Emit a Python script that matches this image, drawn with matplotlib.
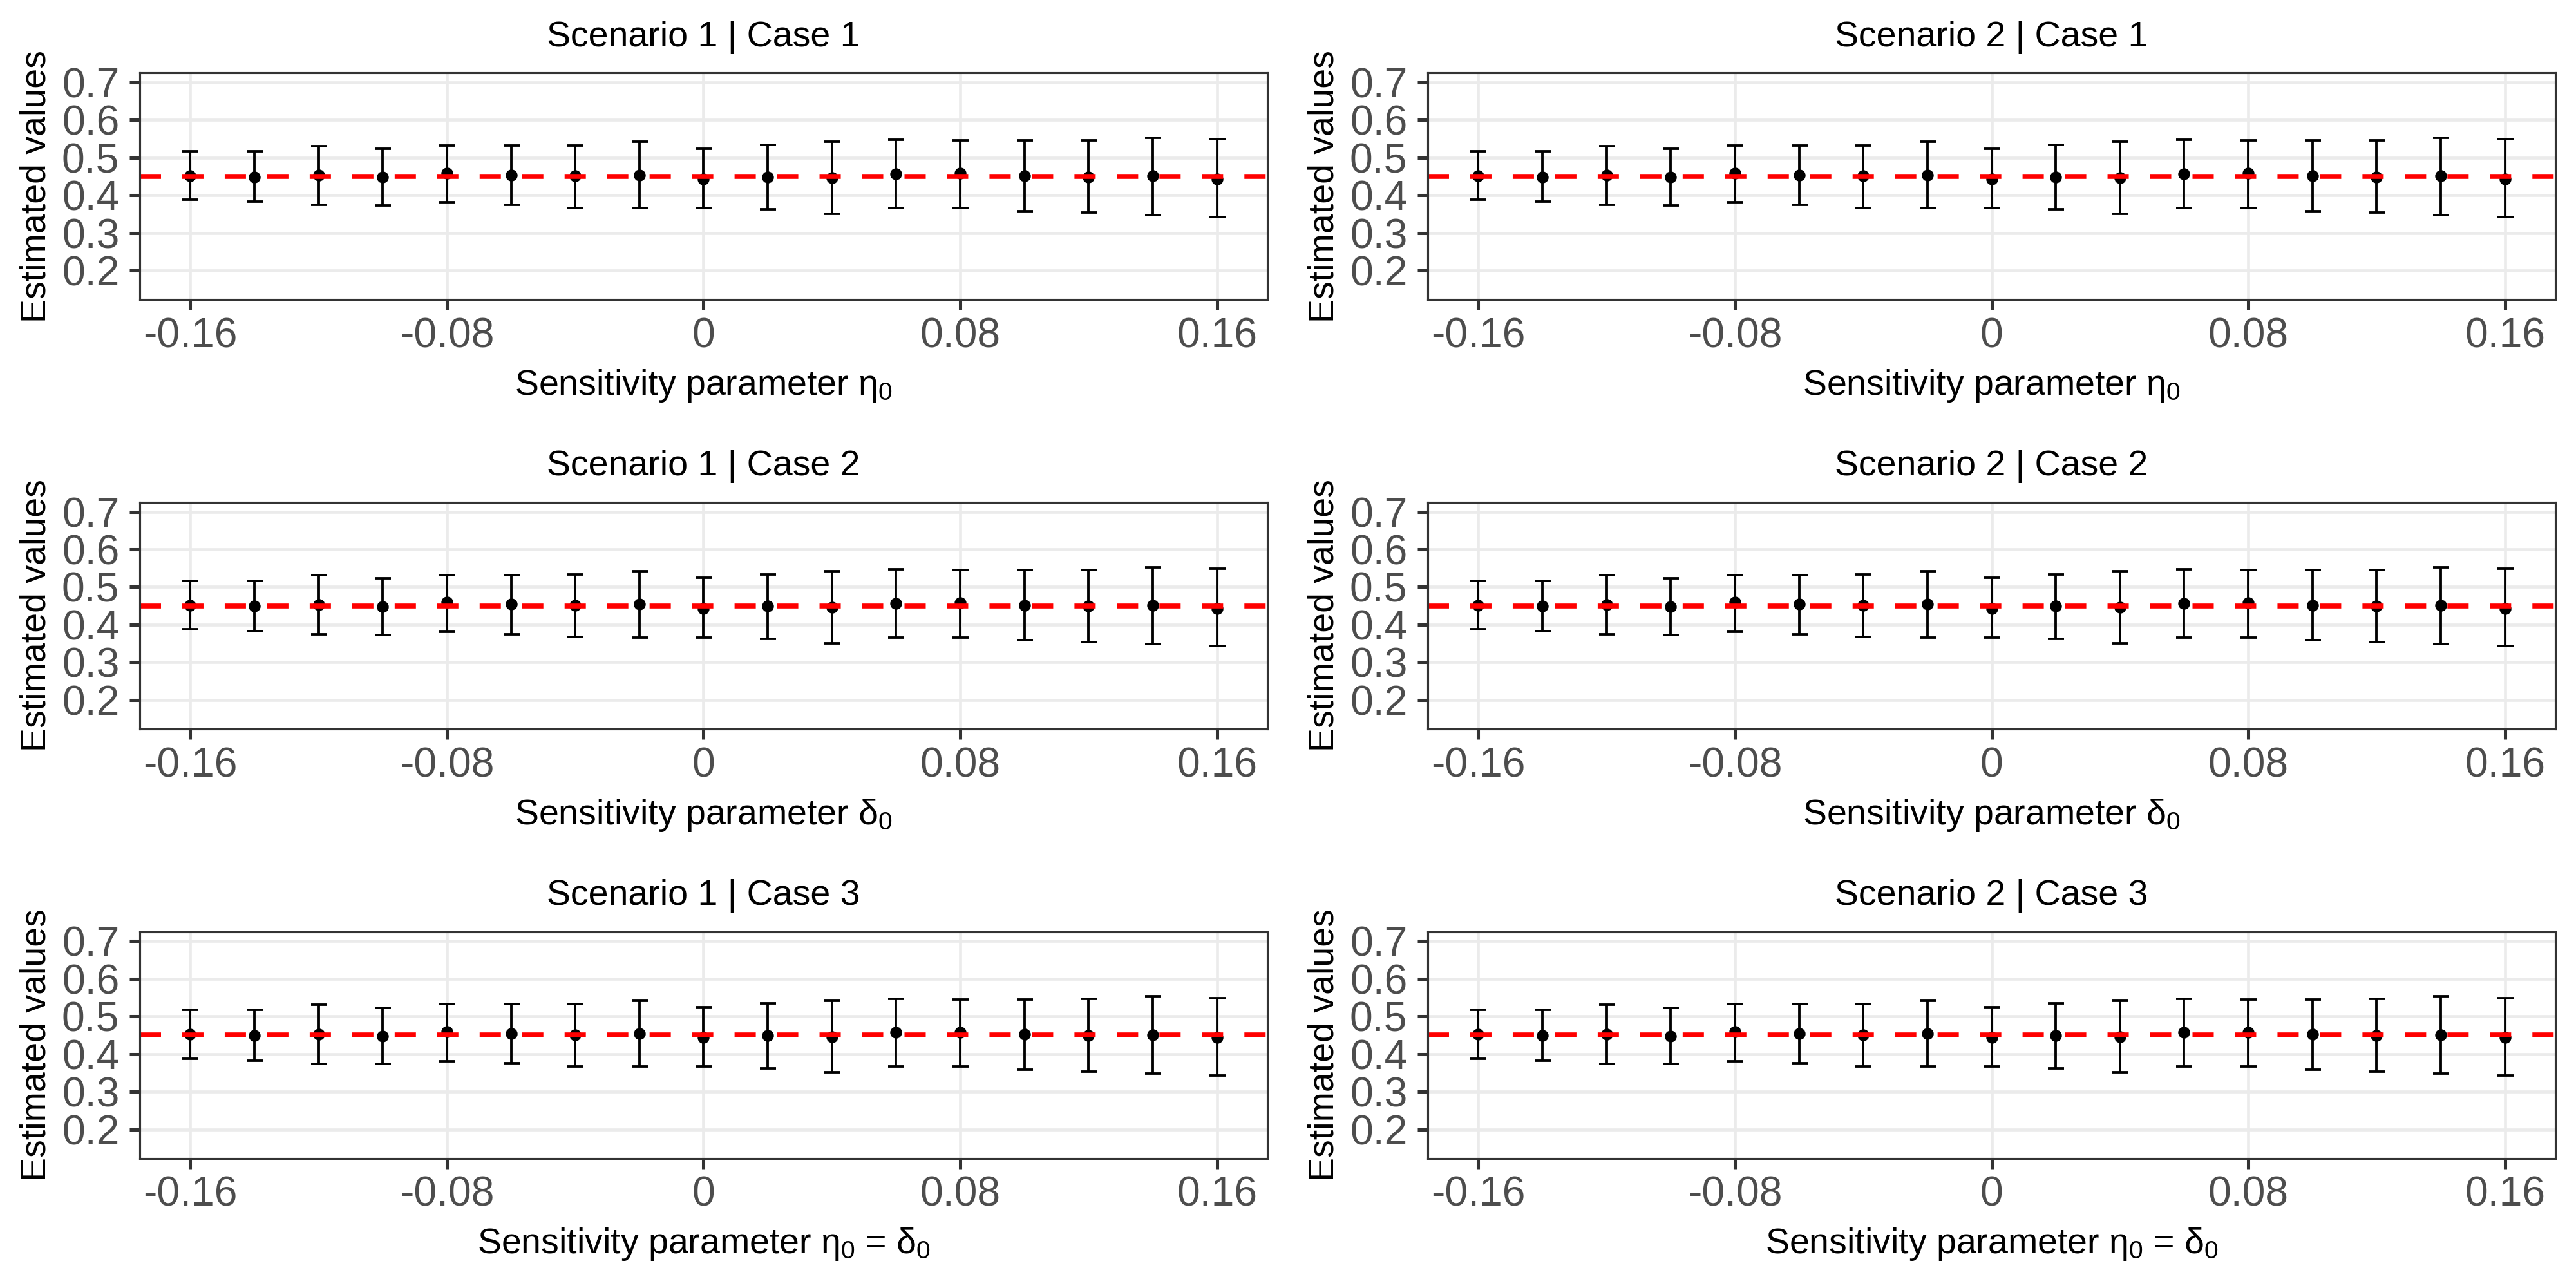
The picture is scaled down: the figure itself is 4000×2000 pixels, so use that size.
import matplotlib
matplotlib.use("Agg")
import matplotlib.pyplot as plt

plt.rcParams['font.family'] = ['Liberation Sans', 'DejaVu Sans']
plt.rcParams['mathtext.fontset'] = 'custom'
plt.rcParams['mathtext.rm'] = 'Liberation Sans'
plt.rcParams['mathtext.it'] = 'Liberation Sans'
plt.rcParams['mathtext.bf'] = 'Liberation Sans:bold'
plt.rcParams['lines.scale_dashes'] = False

# ---- data ----
sensitivity = [-0.16, -0.14, -0.12, -0.10, -0.08, -0.06, -0.04, -0.02, 0.0,
               0.02, 0.04, 0.06, 0.08, 0.10, 0.12, 0.14, 0.16]
estimate = [0.452, 0.449, 0.453, 0.448, 0.459, 0.454, 0.451, 0.454, 0.443,
            0.449, 0.446, 0.457, 0.458, 0.452, 0.449, 0.451, 0.443]
ci_lower = [0.388, 0.383, 0.374, 0.373, 0.381, 0.375, 0.367, 0.366, 0.366,
            0.362, 0.351, 0.366, 0.366, 0.358, 0.354, 0.348, 0.343]
ci_upper = [0.517, 0.517, 0.531, 0.523, 0.532, 0.532, 0.533, 0.542, 0.524,
            0.534, 0.542, 0.547, 0.545, 0.545, 0.546, 0.553, 0.549]
true_value = 0.45

panel_titles = [["Scenario 1 | Case 1", "Scenario 2 | Case 1"],
                ["Scenario 1 | Case 2", "Scenario 2 | Case 2"],
                ["Scenario 1 | Case 3", "Scenario 2 | Case 3"]]
row_xlabels = [r"Sensitivity parameter $\eta_0$",
               r"Sensitivity parameter $\delta_0$",
               r"Sensitivity parameter $\eta_0$ = $\delta_0$"]
ylabel = "Estimated values"
xticks = [-0.16, -0.08, 0.0, 0.08, 0.16]
xtick_labels = ["-0.16", "-0.08", "0", "0.08", "0.16"]
yticks = [0.2, 0.3, 0.4, 0.5, 0.6, 0.7]
ytick_labels = ["0.2", "0.3", "0.4", "0.5", "0.6", "0.7"]

# ---- layout (pixels on a 4000x2000 canvas) ----
W, H = 4000, 2000
col_left = [216.7, 2216.7]
panel_w = 1751.6
row_top = [113.3, 780.0, 1446.7]
panel_h = 351.8

fig = plt.figure(figsize=(16, 8), dpi=250)

yerr = [[e - l for e, l in zip(estimate, ci_lower)],
        [u - e for e, u in zip(estimate, ci_upper)]]

for r in range(3):
    for c in range(2):
        left = col_left[c] / W
        bottom = 1 - (row_top[r] + panel_h) / H
        ax = fig.add_axes([left, bottom, panel_w / W, panel_h / H])

        ax.errorbar(sensitivity, estimate, yerr=yerr, fmt='o', color='black',
                    ms=4.3, elinewidth=1.1, capsize=3.6, capthick=1.1, zorder=3)
        ax.axhline(true_value, color='#FF0000', lw=2.2, dashes=(9.5, 9.5),
                   zorder=4)

        ax.set_xlim(-0.1758, 0.1758)
        ax.set_ylim(0.123, 0.725)
        ax.set_xticks(xticks)
        ax.set_xticklabels(xtick_labels)
        ax.set_yticks(yticks)
        ax.set_yticklabels(ytick_labels)
        ax.minorticks_off()

        ax.grid(True, color='#EBEBEB', lw=1.35, zorder=0)
        ax.set_axisbelow(True)
        for sp in ax.spines.values():
            sp.set_color('#333333')
            sp.set_linewidth(0.9)
            sp.set_zorder(5)
        ax.tick_params(axis='both', colors='#333333', width=1.45, length=4.7,
                       labelsize=18.5, labelcolor='#4D4D4D')
        ax.tick_params(axis='x', pad=3.2)
        ax.tick_params(axis='y', pad=4.3)

        ax.annotate(panel_titles[r][c], xy=(0.5, 1), xycoords='axes fraction',
                    xytext=(0, 12), textcoords='offset points', ha='center',
                    va='baseline', fontsize=16, color='black')
        ax.annotate(row_xlabels[r], xy=(0.5, 0), xycoords='axes fraction',
                    xytext=(0, -42.6), textcoords='offset points', ha='center',
                    va='baseline', fontsize=16, color='black')
        ax.annotate(ylabel, xy=(0, 0.5), xycoords='axes fraction',
                    xytext=(-42.2, 0), textcoords='offset points', ha='center',
                    va='baseline', rotation=90, rotation_mode='anchor',
                    fontsize=16, color='black')

fig.savefig("out.png", dpi=250, facecolor='white')
